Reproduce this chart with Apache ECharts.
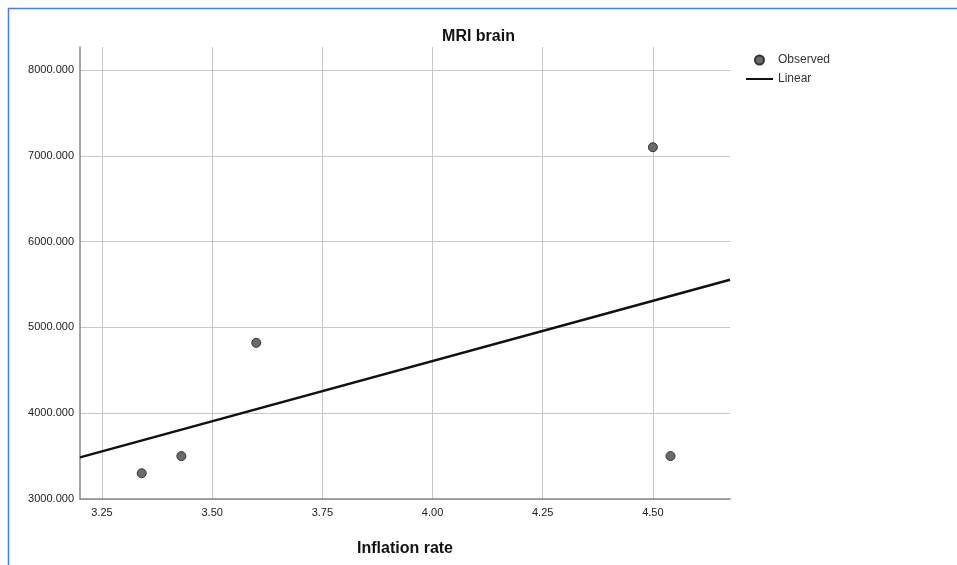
<!DOCTYPE html>
<html>
<head>
<meta charset="utf-8">
<script src="https://cdn.jsdelivr.net/npm/echarts@6/dist/echarts.min.js"></script>
<style>
  html, body { margin: 0; padding: 0; background: #fff; }
  #chart { width: 957px; height: 565px; }
</style>
</head>
<body>
<div id="chart"></div>
<script>
// observed points (inflation rate, MRI brain)
const inflation = [3.34, 3.43, 3.60, 4.50, 4.54];
const mriBrain = [3300, 3500, 4820, 7100, 3500];

// fitted line at the plot edges
const linearX = [3.2, 4.675];
const linearY = [3485, 5555];

const xTicks = [3.25, 3.5, 3.75, 4.0, 4.25, 4.5];
const yTicks = [3000, 4000, 5000, 6000, 7000, 8000];

const chart = echarts.init(document.getElementById('chart'));
const font = 'Liberation Sans, Arial, sans-serif';

// plain line icon for the legend, with tiny corner dots so the box stays 27x9
const lineIcon = 'path://M0,0 L0.01,0 L0.01,0.01 Z M0,3.6 L27,3.6 L27,5.4 L0,5.4 Z M26.99,8.99 L27,8.99 L27,9 Z';

const options = {
  animation: false,
  textStyle: { fontFamily: font },
  title: {
    text: 'MRI brain',
    left: 'center',
    top: 24,
    textStyle: { fontSize: 16, fontWeight: 'bold', color: '#111', fontFamily: font }
  },
  legend: {
    orient: 'vertical',
    left: 746,
    top: 54,
    padding: 0,
    itemWidth: 27,
    itemHeight: 9,
    itemGap: 7,
    textStyle: { fontSize: 12, color: '#333' },
    data: [
      { name: 'Observed', icon: 'circle' },
      { name: 'Linear', icon: lineIcon, itemStyle: { color: '#111', borderWidth: 0 } }
    ]
  },
  grid: { left: 80, right: 227, top: 47, bottom: 66 },
  xAxis: {
    type: 'value',
    min: 3.2,
    max: 4.675,
    name: 'Inflation rate',
    nameLocation: 'middle',
    nameGap: 42,
    nameTextStyle: { fontSize: 16, fontWeight: 'bold', color: '#111', fontFamily: font },
    axisLine: { lineStyle: { color: '#888', width: 1.5 } },
    axisTick: { show: false, customValues: xTicks },
    axisLabel: {
      customValues: xTicks,
      margin: 8,
      fontSize: 11,
      color: '#222',
      formatter: v => v.toFixed(2)
    },
    splitLine: { show: true, lineStyle: { color: '#c8c8c8', width: 1 } }
  },
  yAxis: {
    type: 'value',
    min: 3000,
    max: 8268,
    axisLine: { show: true, lineStyle: { color: '#888', width: 1.5 } },
    axisTick: { show: false, customValues: yTicks },
    axisLabel: {
      customValues: yTicks,
      margin: 6,
      fontSize: 11,
      color: '#222',
      formatter: v => v.toFixed(3)
    },
    splitLine: { show: true, lineStyle: { color: '#c8c8c8', width: 1 } }
  },
  series: [
    {
      name: 'Observed',
      type: 'scatter',
      symbolSize: 9,
      itemStyle: { color: '#6b6b6b', borderColor: '#333', borderWidth: 1, opacity: 1 },
      data: inflation.map((x, i) => [x, mriBrain[i]])
    },
    {
      name: 'Linear',
      type: 'line',
      symbol: 'none',
      lineStyle: { color: '#111', width: 2.5 },
      itemStyle: { color: '#111' },
      data: linearX.map((x, i) => [x, linearY[i]])
    }
  ],
  graphic: [
    {
      type: 'rect',
      silent: true,
      shape: { x: 8.5, y: 8.5, width: 1000, height: 600 },
      style: { fill: 'none', stroke: '#4a7fd6', lineWidth: 1.5 }
    }
  ]
};

chart.setOption(options);
</script>
</body>
</html>
